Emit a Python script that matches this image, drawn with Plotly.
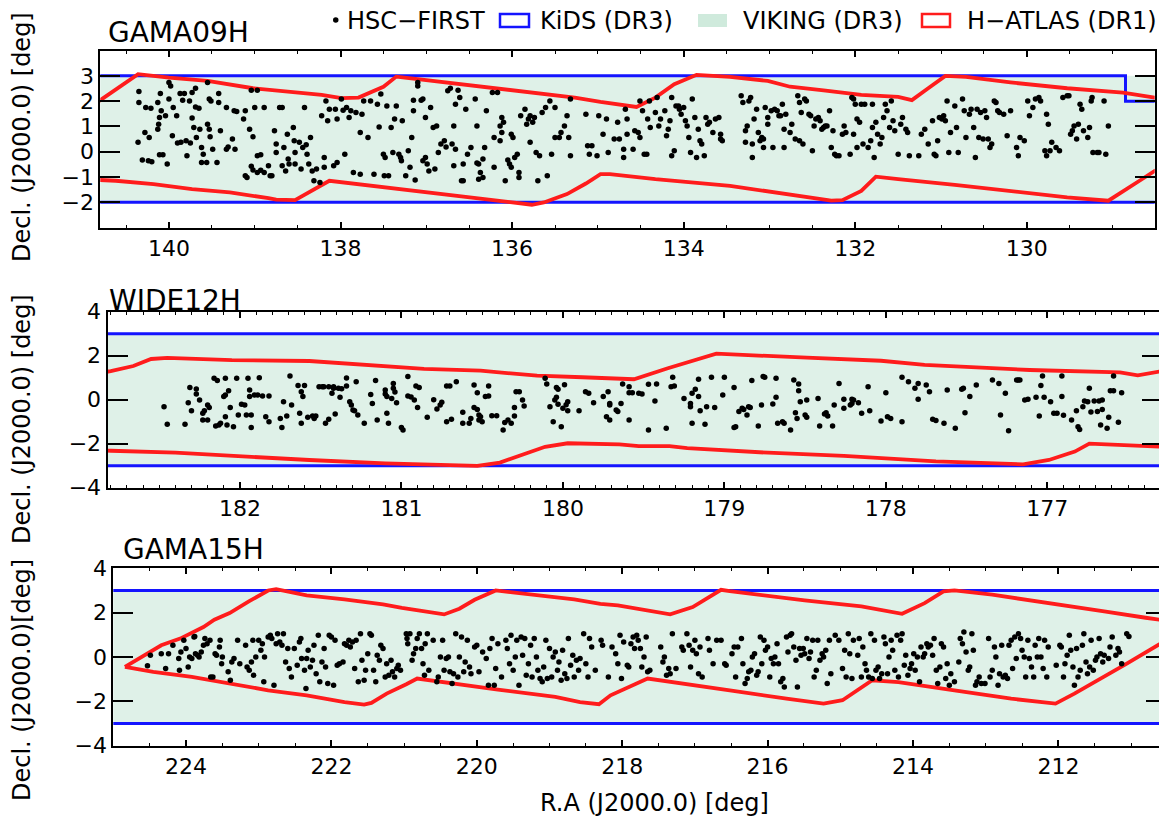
import plotly.graph_objects as go

# page is drawn inside the browser's default 8 px body margin
OFF = 8
W, H = 1167 - OFF, 821 - OFF
FONT = "DejaVu Sans"

# ---------------- DATA (RA, Dec in degrees) ----------------
# HSC-FIRST sources, GAMA09H field
g09_hsc = [
(140.35,2.38),(140.35,1.95),(140.36,0.37),(140.31,-0.33),(140.27,1.75),(140.21,1.72),(140.24,-0.36),(140.20,-0.40),
(140.28,0.76),(140.23,0.56),(140.13,1.95),(140.12,1.09),(140.13,0.89),(140.11,1.35),(140.09,1.62),(140.11,-0.12),
(140.07,-0.12),(140.10,2.30),(140.04,1.42),(140.02,-0.49),(140.00,2.74),(139.98,2.60),(140.00,2.08),(139.96,0.63),
(139.95,1.75),(139.91,1.42),(139.90,0.34),(139.87,2.30),(139.82,2.30),(139.84,2.04),(139.86,0.37),(139.80,0.43),
(139.79,-0.16),(139.76,2.01),(139.75,0.34),(139.73,2.34),(139.73,1.33),(139.71,0.96),(139.69,2.51),(139.69,1.77),
(139.68,0.56),(139.65,1.72),(139.64,0.89),(139.62,0.17),(139.62,-0.43),(139.60,-0.10),(139.56,-0.43),(139.55,2.74),
(139.55,1.09),(139.53,2.08),(139.53,0.89),(139.52,0.59),(139.51,2.01),(139.49,0.10),(139.44,-0.43),(139.42,2.30),
(139.42,1.95),(139.40,0.83),(139.33,1.75),(139.33,0.10),(139.31,0.19),(139.26,0.50),(139.24,1.62),(139.21,1.59),
(139.23,0.10),(139.13,1.29),(139.11,-0.95),(139.09,-1.02),(139.11,1.62),(139.06,0.89),(139.04,2.43),(139.02,0.59),
(139.04,-0.58),(139.02,-0.72),(138.97,-0.16),(138.97,2.43),(138.93,-0.12),(139.00,1.75),(138.97,-0.82),(138.93,-0.73),
(138.89,1.75),(138.89,-0.82),(138.84,-0.56),(138.82,-0.95),(138.80,-0.95),(138.77,0.83),(138.75,0.30),(138.75,-0.03),
(138.71,1.75),(138.68,1.75),(138.68,-0.56),(138.66,0.17),(138.64,-0.76),(138.62,0.69),(138.61,-0.29),(138.60,-0.49),
(138.55,0.96),(138.54,0.43),(138.53,-0.03),(138.53,-0.49),(138.48,0.37),(138.46,-0.69),(138.44,0.17),(138.42,1.75),
(138.40,0.27),(138.39,-0.10),(138.37,-0.49),(138.35,0.56),(138.33,-0.76),(138.31,-1.15),(138.28,-0.69),(138.24,-1.22),
(138.22,1.42),(138.19,-0.23),(138.19,-0.62),(138.17,2.01),(138.15,1.22),(138.13,1.68),(138.08,-0.56),(138.06,1.68),
(138.04,-0.43),(138.04,1.29),(137.99,2.08),(137.97,1.64),(137.95,-0.10),(137.93,1.75),(137.90,1.35),(137.88,1.62),
(137.85,-0.82),(137.82,1.55),(137.77,-0.89),(137.77,0.76),(137.75,1.48),(137.73,2.01),(137.68,0.56),(137.65,2.01),
(137.61,-0.89),(137.57,1.88),(137.55,0.98),(137.53,2.28),(137.50,-0.10),(137.48,-0.23),(137.49,-0.95),(137.46,1.81),
(137.44,-0.95),(137.41,0.96),(137.39,-0.03),(137.37,1.29),(137.35,1.81),(137.32,-0.10),(137.30,-0.23),(137.29,-0.36),
(137.28,1.22),(137.24,-0.95),(137.21,0.04),(137.19,-0.62),(137.17,0.56),(137.15,1.62),(137.15,2.04),(137.13,-1.12),
(137.10,2.60),(137.10,2.74),(137.06,2.04),(137.04,2.08),(137.04,-0.36),(137.01,1.35),(137.01,-0.23),(136.99,-0.49),
(136.97,-0.76),(136.95,1.75),(136.92,0.96),(136.90,-0.69),(136.88,1.02),(136.86,-0.03),(136.83,0.30),(136.79,0.43),
(136.77,0.19),(136.75,2.41),(136.72,2.51),(136.70,0.30),(136.68,-0.56),(136.68,1.02),(136.66,1.88),(136.66,0.10),
(136.63,2.43),(136.61,2.14),(136.59,-1.15),(136.57,-1.15),(136.57,-0.49),(136.54,1.68),(136.52,-0.10),(136.48,0.17),
(136.43,2.08),(136.41,1.02),(136.41,-0.45),(136.39,-1.09),(136.39,-0.49),(136.37,-0.82),(136.34,-0.29),(136.34,-1.02),
(136.32,0.17),(136.30,1.62),(136.23,2.34),(136.21,-0.62),(136.21,0.56),(136.17,2.34),(136.14,1.02),(136.14,0.43),
(136.12,0.76),(136.12,1.35),(136.10,1.16),(136.08,-1.15),(136.05,-0.33),(136.03,-0.49),(136.01,0.69),(135.99,0.56),
(136.01,-0.62),(135.97,-0.23),(135.94,-0.10),(135.92,-1.02),(135.92,-0.82),(135.90,1.42),(135.85,1.68),(135.83,1.09),
(135.81,1.29),(135.79,0.37),(135.79,1.42),(135.76,1.16),(135.74,1.35),(135.72,-0.03),(135.70,-1.15),(135.68,-0.16),
(135.65,1.55),(135.61,1.75),(135.59,-0.95),(135.56,2.01),(135.54,-0.10),(135.50,1.75),(135.50,0.56),(135.45,0.56),
(135.43,0.76),(135.39,1.02),(135.36,1.42),(135.34,0.56),(135.32,-0.16),(135.32,2.08),(135.14,1.48),(135.12,0.23),
(135.10,-0.10),(135.07,0.23),(135.01,-0.16),
(134.99,1.42),(134.94,0.69),(134.90,1.29),(134.88,-0.03),(134.81,0.50),(134.77,1.16),(134.75,0.50),(134.70,0.10),
(134.70,-0.23),(134.68,1.68),(134.66,1.29),(134.66,0.69),(134.59,0.10),(134.57,0.83),(134.53,0.76),(134.51,0.56),
(134.51,2.01),(134.48,1.62),(134.46,-0.10),(134.43,-0.10),(134.42,1.29),(134.40,2.01),(134.39,0.96),(134.33,1.55),
(134.31,2.14),(134.29,1.02),(134.27,1.29),(134.22,1.62),(134.20,0.63),(134.18,0.89),(134.16,1.22),(134.14,2.14),
(134.14,-0.16),(134.11,0.04),(134.09,1.81),(134.06,1.81),(134.05,1.68),(134.03,1.48),(134.00,1.75),(133.98,1.22),
(133.96,1.02),(133.94,0.56),(133.92,-0.03),(133.90,2.08),(133.87,1.35),(133.85,-0.23),(133.83,0.89),(133.81,0.43),
(133.79,0.30),(133.76,-0.16),(133.74,1.35),(133.72,1.09),(133.70,1.16),(133.66,0.76),(133.63,1.29),(133.59,1.35),
(133.57,0.50),(133.57,0.69),(133.55,0.43),(133.33,2.21),(133.31,1.95),(133.28,0.37),(133.28,0.83),(133.26,1.02),
(133.24,2.01),(133.22,2.14),(133.20,0.30),(133.20,-0.23),(133.18,1.29),(133.15,1.68),(133.13,0.76),(133.11,0.43),
(133.09,0.56),(133.07,0.17),(133.07,0.50),(133.05,1.75),(133.02,1.35),(133.02,1.09),(132.98,1.62),(132.96,0.17),
(132.94,1.68),(132.91,1.62),(132.89,1.42),(132.87,1.42),(132.85,1.88),(132.83,0.89),(132.81,1.48),(132.83,0.17),
(132.76,0.76),(132.74,1.09),(132.70,0.50),(132.67,2.21),(132.65,1.95),(132.65,0.43),(132.63,1.55),(132.61,0.30),
(132.59,2.08),(132.57,2.01),(132.54,1.48),(132.52,1.42),(132.50,0.04),(132.48,1.02),(132.46,1.29),(132.43,1.35),
(132.41,1.22),(132.39,0.89),(132.37,0.96),(132.35,1.02),(132.33,1.02),(132.30,1.62),(132.28,0.17),(132.26,0.83),
(132.24,-0.10),(132.22,-0.16),(132.19,-0.16),(132.15,0.69),(132.13,1.02),(132.11,0.76),(132.06,-0.10),(132.04,2.14),
(132.02,0.69),(132.02,2.08),(132.00,1.88),(131.98,1.29),(131.98,0.17),(131.95,1.16),(131.93,1.88),(131.91,0.30),
(131.89,1.88),(131.85,0.17),(131.82,0.43),(131.80,0.96),(131.80,1.88),(131.78,-0.23),(131.76,1.16),(131.74,0.69),
(131.71,0.30),(131.69,0.56),(131.67,1.35),(131.65,1.88),(131.63,1.62),(131.60,0.96),(131.58,2.01),(131.56,1.22),
(131.54,0.83),(131.50,-0.10),(131.47,1.09),(131.45,1.35),(131.41,0.89),(131.39,0.76),(131.37,-0.16),(131.26,-0.16),
(131.23,0.69),(131.19,0.89),(131.15,0.30),(131.10,1.22),(131.08,-0.10),(131.06,-0.16),(131.04,0.43),(131.02,1.35),
(130.99,1.29),(130.97,1.42),(130.95,1.22),(130.93,2.01),(130.91,-0.03),(130.89,0.76),(130.84,1.81),(130.82,0.96),
(130.80,-0.03),(130.75,2.08),(130.73,1.62),(130.71,0.56),(130.67,1.48),(130.65,1.68),(130.62,0.96),(130.60,-0.23),
(130.58,1.68),(130.56,0.56),(130.54,1.55),(130.51,0.50),(130.49,1.62),(130.47,1.35),(130.45,0.50),(130.43,0.17),
(130.41,0.30),(130.38,2.01),(130.36,1.95),(130.34,1.62),(130.32,1.55),(130.27,1.48),(130.23,0.63),(130.19,1.62),
(130.12,0.17),(130.10,-0.16),(130.08,0.56),(130.03,0.43),(129.99,2.01),(129.97,1.42),(129.93,1.75),(129.90,2.08),
(129.86,2.14),(129.84,2.01),(129.79,0.04),(129.77,1.48),(129.75,1.09),(129.77,-0.16),(129.73,0.04),(129.71,0.37),
(129.66,0.17),(129.62,0.04),(129.58,2.14),(129.53,2.21),(129.51,2.21),(129.49,0.69),(129.47,0.83),(129.45,1.02),
(129.42,0.50),(129.40,1.09),(129.38,1.88),(129.36,1.68),(129.34,0.83),(129.29,0.56),(129.27,0.96),(129.25,2.01),
(129.24,2.14),(129.23,-0.03),(129.18,-0.03),(129.16,-0.03),(129.10,2.01),(129.08,-0.10),(129.05,1.02),
]

# HSC-FIRST sources, WIDE12H field
w12_hsc = [
(182.47,-0.32),(182.45,-1.12),(182.34,-1.12),(182.32,-0.14),(182.31,0.56),(182.30,-0.50),(182.27,0.49),(182.27,0.26),
(182.25,-0.01),(182.23,-0.62),(182.23,-0.92),(182.22,-0.50),(182.20,-0.92),(182.20,-0.24),(182.19,-0.36),(182.16,0.97),
(182.15,-1.20),(182.14,0.87),(182.13,-1.15),(182.12,-1.07),(182.10,0.14),(182.09,0.21),(182.09,-0.77),(182.09,0.97),
(182.08,-1.15),(182.07,0.41),(182.06,-0.36),(182.04,-1.23),(182.02,0.97),(182.01,-0.70),(181.99,-0.21),(181.97,-0.24),
(181.96,-0.70),(181.95,0.97),(181.94,0.14),(181.94,0.44),(181.93,-0.70),(181.93,-1.26),(181.91,0.21),(181.89,0.21),
(181.88,1.00),(181.86,0.17),(181.84,-0.77),(181.82,0.17),(181.82,-1.00),(181.75,-0.85),(181.74,-1.26),(181.73,-0.09),
(181.71,-0.74),(181.69,1.08),(181.68,-0.24),(181.64,0.64),(181.63,-0.62),(181.62,-1.07),(181.62,0.36),(181.61,0.14),
(181.60,0.64),(181.58,-0.80),(181.55,-0.74),(181.54,-0.85),(181.53,-0.74),(181.51,0.59),(181.49,0.59),(181.48,0.59),
(181.47,-1.07),(181.45,0.59),(181.45,-0.89),(181.43,0.29),(181.42,0.59),(181.42,0.52),(181.41,-0.65),(181.39,0.52),
(181.38,0.11),(181.37,0.50),(181.34,0.99),(181.34,0.62),(181.32,-0.09),(181.31,-0.24),(181.30,-0.47),(181.29,-0.50),
(181.28,0.82),(181.27,-0.70),(181.23,-1.07),(181.19,0.24),(181.18,-0.17),(181.16,0.87),(181.15,-0.92),(181.10,0.44),
(181.10,0.26),(181.09,0.14),(181.09,-0.62),(181.08,-1.07),(181.06,0.06),(181.05,0.52),(181.05,0.74),(181.04,0.35),
(181.03,-0.14),(181.00,-1.26),(180.99,-1.38),(180.96,1.05),(180.96,0.17),(180.94,0.12),(180.92,-0.01),(180.91,0.62),
(180.90,-0.36),(180.89,0.55),(180.84,-0.80),(180.80,0.00),(180.78,-0.42),(180.76,-0.24),(180.75,-0.12),(180.72,-1.00),
(180.72,0.62),(180.70,0.62),(180.69,-0.89),(180.66,0.82),(180.62,-0.57),(180.62,-1.07),(180.58,-1.07),(180.57,-0.85),
(180.55,0.67),(180.55,-0.36),(180.53,-0.44),(180.53,0.32),(180.52,-0.92),(180.52,-0.70),(180.51,-0.77),(180.50,-1.00),
(180.48,0.14),(180.46,0.62),(180.46,0.17),(180.44,-0.73),(180.41,-0.73),(180.37,-1.38),(180.36,-1.04),(180.34,-0.92),
(180.32,-1.07),(180.30,-0.74),(180.30,-0.35),(180.29,0.36),(180.27,0.36),(180.25,-0.01),(180.24,-0.29),(180.11,0.97),
(180.10,0.71),(180.08,-0.32),(180.06,-1.00),(180.05,-0.01),(180.04,0.11),(180.04,0.56),(180.03,0.47),(180.03,-0.21),
(180.01,-1.23),(180.00,-0.39),(179.99,0.68),(179.98,-0.23),(179.97,-0.09),(179.97,-0.50),(179.90,-0.50),(179.86,0.36),
(179.84,0.29),(179.81,-0.14),
(179.75,0.14),(179.72,0.36),(179.71,-0.17),(179.71,-0.24),(179.73,-0.77),(179.71,-0.92),(179.67,-0.47),(179.66,-0.54),
(179.64,-0.17),(179.63,0.71),(179.59,0.59),(179.59,0.32),(179.59,-0.92),(179.57,0.32),(179.53,0.29),(179.51,0.26),
(179.47,-1.38),(179.47,0.70),(179.43,-0.06),(179.42,0.71),(179.36,-1.30),(179.33,0.59),(179.32,1.02),(179.31,0.62),
(179.25,0.06),(179.21,-0.17),(179.20,-1.07),(179.21,-0.32),(179.20,0.29),(179.18,0.47),(179.16,0.14),(179.16,0.93),
(179.15,-0.50),(179.12,-1.12),(179.11,-0.32),(179.08,1.02),(179.06,-0.35),(179.01,0.21),(179.00,1.02),(178.94,0.56),
(178.94,-1.26),(178.93,-1.23),(178.91,-0.54),(178.89,-0.39),(178.88,-0.44),(178.86,-0.70),(178.85,-0.32),(178.84,-0.35),
(178.83,0.87),(178.79,-1.20),(178.77,-0.24),(178.76,1.05),(178.75,1.02),(178.70,-0.20),(178.68,0.11),(178.68,0.97),
(178.67,-1.07),(178.64,-1.00),(178.63,-1.07),(178.59,-1.38),(178.57,0.89),(178.56,-0.59),(178.55,-0.85),(178.54,0.71),
(178.54,0.41),(178.53,-0.09),(178.50,-0.70),(178.49,-0.80),(178.49,-0.01),(178.42,0.06),(178.41,-1.20),(178.38,-0.65),
(178.37,-0.59),(178.36,-0.74),(178.33,-1.20),(178.32,-0.24),(178.29,0.74),(178.26,-0.39),(178.26,0.02),(178.22,-0.24),
(178.21,0.02),(178.21,-0.17),(178.20,-0.01),(178.17,-0.14),(178.15,-0.62),(178.11,0.59),(178.10,-0.50),(178.03,-0.97),
(178.00,0.32),(177.99,-0.77),(177.97,-0.86),(177.90,1.02),(177.90,-1.00),(177.86,0.82),(177.82,0.52),(177.80,0.74),
(177.80,0.02),(177.75,0.67),(177.73,0.36),(177.71,-0.89),(177.69,-0.95),(177.64,-1.07),(177.62,0.44),(177.57,-1.30),
(177.53,0.47),(177.52,0.52),(177.51,-0.59),(177.48,0.14),(177.44,0.67),(177.34,0.89),(177.30,0.74),(177.29,-0.70),
(177.26,0.29),(177.24,-1.41),(177.19,0.89),(177.18,0.89),(177.17,0.89),(177.14,-0.01),(177.12,0.02),(177.07,0.11),
(177.05,-0.74),(177.04,0.64),(177.03,1.08),(177.02,0.11),(176.98,-0.09),(176.96,-0.62),(176.94,-0.62),(176.91,1.08),
(176.91,0.14),(176.90,-0.71),(176.85,-0.92),(176.82,-0.50),(176.81,-1.23),(176.80,-1.35),(176.78,-0.32),(176.77,-0.06),
(176.75,-0.09),(176.74,0.52),(176.73,-0.56),(176.71,-0.06),(176.69,-0.54),(176.68,-0.06),(176.67,-1.15),(176.66,-0.44),
(176.66,-0.01),(176.63,-1.30),(176.62,-0.80),(176.61,0.41),(176.59,1.08),(176.59,0.41),(176.56,-1.03),(176.54,0.32),
]

# HSC-FIRST sources, GAMA15H field
g15_hsc = [
(224.53,-0.40),(224.49,0.08),(224.34,0.15),(224.28,-0.52),(224.24,0.15),(224.18,0.53),(224.10,-0.07),(224.09,-0.60),
(224.07,0.23),(224.03,0.75),(224.00,0.38),(223.97,-0.45),(223.95,0.00),(223.92,-0.07),(223.89,0.90),(223.88,0.93),
(223.87,0.15),(223.84,0.08),(223.82,0.00),(223.79,0.23),(223.76,0.53),(223.74,0.83),(223.71,0.60),(223.67,0.75),
(223.66,-0.90),(223.63,-0.90),(223.60,0.15),(223.58,0.08),(223.54,0.45),(223.53,0.75),(223.51,-0.30),(223.50,0.00),
(223.42,-0.67),(223.39,-1.05),(223.37,-0.22),(223.34,-0.07),(223.29,0.75),(223.26,-0.30),(223.18,0.53),(223.16,-0.45),
(223.13,-0.60),(223.10,-0.22),(223.08,0.75),(223.07,-0.82),(223.04,0.00),(223.00,0.75),(222.97,0.30),(222.95,0.60),
(222.93,-1.12),(222.92,0.00),(222.87,0.90),(222.84,0.98),(222.82,0.83),(222.79,-1.27),(222.76,0.60),(222.74,1.05),
(222.71,0.68),(222.68,0.53),(222.66,1.05),(222.63,-0.22),(222.60,0.38),(222.58,-0.52),(222.55,-0.90),(222.51,0.38),
(222.47,-0.37),(222.44,0.68),(222.42,0.83),(222.41,-0.07),(222.37,-0.60),(222.35,-1.42),(222.34,-0.07),(222.32,0.30),
(222.29,-0.45),(222.26,-0.15),(222.24,0.53),(222.21,-0.75),(222.18,0.98),(222.16,-1.12),(222.13,-0.22),(222.10,0.38),
(222.08,-0.45),(222.05,-1.20),(222.03,0.98),(222.00,0.90),(221.97,-1.27),(221.95,0.75),(221.92,-0.37),(221.89,-0.30),
(221.84,-0.22),(221.82,0.60),(221.79,0.53),(221.76,0.75),(221.74,0.45),(221.71,0.68),(221.68,-0.52),(221.66,0.75),
(221.63,-1.12),(221.60,1.05),(221.58,-0.15),(221.55,-1.05),(221.53,-0.60),(221.50,0.15),(221.47,1.05),(221.45,0.98),
(221.42,-0.60),(221.39,-1.12),(221.37,0.08),(221.34,-0.15),(221.32,0.53),(221.29,0.38),(221.26,-0.90),(221.24,-0.30),
(221.21,-0.82),(221.18,-0.15),(221.16,-0.67),(221.13,-0.90),(221.10,-0.52),(221.08,-0.37),(221.05,-0.60),(220.97,1.05),
(220.96,0.83),(220.95,0.60),(220.92,1.05),(220.89,-0.15),(220.87,0.15),(220.84,0.38),(220.82,0.83),(220.79,1.05),
(220.76,0.38),(220.74,-0.30),(220.72,-0.82),(220.71,0.60),(220.68,1.05),(220.66,-0.60),(220.60,0.75),(220.55,-1.12),
(220.53,-0.90),(220.50,0.00),(220.47,0.75),(220.45,-0.60),(220.42,-0.07),(220.39,0.00),(220.37,-0.67),(220.34,-1.20),
(220.32,-0.75),(220.29,1.05),(220.26,-0.90),(220.24,0.00),(220.21,0.90),(220.18,-0.67),(220.16,-0.22),(220.13,0.75),
(220.10,-0.45),(220.08,-0.75),(220.03,0.45),(220.00,0.53),(219.97,-0.67),(219.92,0.23),(219.87,-0.07),(219.84,-1.27),
(219.82,0.38),(219.79,0.83),(219.76,-1.27),(219.74,-0.52),(219.71,0.60),(219.66,-0.90),(219.60,0.75),(219.58,0.38),
(219.55,-0.30),(219.53,0.98),(219.50,-0.60),(219.47,0.00),(219.45,0.75),(219.42,-1.27),(219.39,0.90),(219.37,0.08),
(219.34,0.83),(219.32,-0.82),(219.29,-0.30),(219.26,0.53),(219.24,-0.90),(219.21,0.83),(219.18,0.00),(219.16,-0.60),
(219.13,-0.97),(219.10,-1.12),(219.08,-0.45),(219.05,0.75),(219.03,-0.97),(219.00,0.38),(218.97,-0.90),(218.95,0.00),
(218.92,0.23),(218.89,-0.60),(218.87,-0.22),(218.84,-1.05),(218.82,0.30),(218.79,-0.75),(218.76,-0.97),(218.74,0.83),
(218.71,-0.37),(218.68,0.08),(218.66,-0.90),(218.63,-0.15),(218.60,-0.60),(218.58,-0.07),(218.53,1.05),(218.50,-0.30),
(218.47,-0.90),(218.45,0.83),(218.42,0.45),(218.37,-0.60),
(218.29,0.75),(218.27,0.53),(218.19,-0.90),(218.14,0.45),(218.09,0.15),(218.06,-0.30),(218.03,0.98),(218.01,-0.97),
(217.98,0.68),(217.93,-0.37),(217.91,-0.45),(217.88,0.60),(217.85,0.90),(217.83,0.38),(217.80,0.98),(217.78,0.75),
(217.75,0.38),(217.73,-0.45),(217.70,0.00),(217.67,0.90),(217.65,-0.67),(217.62,-0.60),(217.47,0.45),(217.44,-0.22),
(217.42,0.00),(217.39,-0.82),(217.36,-0.52),(217.34,-0.75),(217.31,1.05),(217.26,-0.52),(217.18,0.45),(217.16,0.30),
(217.11,1.05),(217.08,0.53),(217.06,-0.45),(217.03,0.30),(217.00,0.75),(216.98,0.15),(216.95,-0.75),(216.93,0.45),
(216.90,-0.90),(216.82,0.83),(216.80,0.30),(216.75,-0.30),(216.70,0.75),(216.64,0.75),(216.59,-0.30),(216.57,-0.37),
(216.49,0.15),(216.46,0.45),(216.44,-0.90),(216.41,0.45),(216.36,0.83),(216.34,-0.30),(216.31,-1.20),(216.28,-0.97),
(216.26,-0.67),(216.23,-0.60),(216.21,0.00),(216.18,0.15),(216.15,-0.82),(216.13,-0.67),(216.10,0.90),(216.08,-0.30),
(216.05,0.75),(216.03,0.30),(216.00,0.45),(215.97,-0.90),(215.95,-0.07),(215.92,-0.30),(215.90,0.00),(215.87,0.60),
(215.85,-0.30),(215.82,-1.12),(215.79,-0.97),(215.77,-1.35),(215.74,0.90),(215.72,0.23),(215.69,0.98),(215.67,1.05),
(215.64,0.45),(215.61,-0.15),(215.59,-1.35),(215.56,0.38),(215.54,0.08),(215.51,0.38),(215.49,0.15),(215.46,0.83),
(215.43,-0.07),(215.41,0.23),(215.38,0.75),(215.36,-0.90),(215.33,-0.60),(215.31,0.75),(215.28,-0.15),(215.25,0.15),
(215.23,0.00),(215.20,0.30),(215.18,-1.20),(215.15,0.75),(215.13,-0.75),(215.07,0.98),(215.02,0.75),(214.97,-0.52),
(214.94,0.30),(214.92,-0.90),(214.89,1.05),(214.87,0.15),(214.84,-0.97),(214.82,0.75),(214.76,0.08),(214.74,0.83),
(214.71,-0.90),(214.69,0.45),(214.66,-0.30),(214.64,-0.60),(214.61,-0.90),(214.58,1.05),(214.56,-0.97),(214.53,0.75),
(214.51,-0.60),(214.48,-0.45),(214.46,-0.97),(214.43,-0.75),(214.40,0.90),(214.38,0.60),(214.35,-0.75),(214.33,0.00),
(214.30,0.75),(214.28,0.30),(214.25,-0.60),(214.22,0.98),(214.20,-0.90),(214.17,0.75),(214.15,1.05),(214.12,-0.37),
(214.10,0.08),(214.07,-0.82),(214.04,-0.52),(214.02,-0.30),(213.99,0.15),(213.97,-0.60),(213.94,0.00),(213.91,-1.12),
(213.89,0.45),(213.86,0.00),(213.84,0.15),(213.81,0.60),(213.79,0.45),(213.76,0.53),(213.73,0.08),(213.71,0.83),
(213.68,-0.60),(213.66,-1.20),(213.63,-0.45),(213.61,0.60),(213.58,0.45),(213.55,-0.97),(213.53,-0.30),(213.50,-1.27),
(213.48,-0.75),(213.43,-1.12),(213.37,-0.22),(213.35,0.83),(213.32,0.60),(213.30,1.13),(213.27,0.23),(213.24,-0.60),
(213.22,-0.45),(213.19,1.05),(213.17,0.30),(213.14,-1.27),(213.12,-1.12),(213.09,-0.90),(213.06,-1.20),(213.01,-1.20),
(212.96,0.83),(212.94,-0.90),(212.91,-0.60),(212.88,0.45),(212.86,0.00),(212.83,-1.27),(212.81,-0.75),(212.78,0.53),
(212.76,-0.90),(212.73,-0.82),(212.70,-0.97),(212.68,0.53),(212.65,0.75),(212.63,-0.52),(212.60,0.90),(212.58,-0.07),
(212.55,1.05),(212.52,0.83),(212.50,0.30),(212.47,0.00),(212.45,-0.90),(212.42,0.75),(212.40,-0.07),(212.37,-0.45),
(212.34,-0.90),(212.32,0.53),(212.29,0.00),(212.27,0.83),(212.24,0.00),(212.21,-0.52),(212.19,0.75),(212.16,-0.90),
(212.14,0.45),(212.03,-0.37),(211.98,0.53),(211.96,0.45),(211.93,-0.90),(211.91,-0.30),(211.88,0.08),(211.85,0.98),
(211.83,0.30),(211.80,-0.45),(211.78,-1.27),(211.75,0.38),(211.73,-0.90),(211.70,-0.60),(211.67,0.53),(211.65,1.05),
(211.62,-0.22),(211.60,-0.75),(211.57,-0.45),(211.55,0.75),(211.52,-0.60),(211.49,-0.15),(211.47,0.00),(211.44,0.83),
(211.42,0.15),(211.39,-0.22),(211.37,0.08),(211.31,-0.07),(211.29,0.45),(211.26,0.90),(211.21,0.08),(211.18,0.38),
(211.16,0.23),(211.13,-0.30),(211.06,1.05),(211.03,0.93),
]

# H-ATLAS (DR1) field boundaries: upper edge (decreasing RA) then lower edge (increasing RA)
g09_atlas = [
(141.0,1.57),(140.79,2.05),(140.36,3.07),(140.00,2.93),(139.55,2.80),(139.02,2.51),(138.75,2.43),(138.44,2.30),
(138.22,2.25),(137.99,2.12),(137.79,2.14),(137.50,2.57),(137.35,2.97),(137.10,2.87),(136.61,2.67),(136.17,2.51),
(135.72,2.34),(135.27,2.14),(134.97,1.97),(134.86,1.91),(134.55,1.77),(134.33,2.14),(134.11,2.67),(133.85,3.04),
(133.46,2.96),(133.02,2.80),(132.76,2.57),(132.37,2.43),(131.93,2.25),(131.50,2.17),(131.34,2.04),(131.15,2.51),
(130.95,3.00),(130.71,2.96),(130.19,2.74),(129.53,2.51),(128.88,2.34),(128.51,2.14),(128.2,2.02),
(128.2,-0.35),(128.51,-0.76),(128.66,-1.09),(128.88,-1.55),(129.05,-1.94),(129.53,-1.81),(130.19,-1.55),(130.84,-1.31),
(131.50,-1.09),(131.76,-0.99),(131.93,-1.55),(132.15,-1.92),(132.28,-1.94),(132.81,-1.68),(133.46,-1.35),(134.33,-1.09),
(134.86,-0.89),(134.97,-0.89),(135.14,-1.26),(135.36,-1.68),(135.63,-2.01),(135.77,-2.10),(136.17,-1.94),(136.83,-1.68),
(137.50,-1.41),(138.13,-1.15),(138.53,-1.92),(138.75,-1.90),(138.84,-1.84),(139.29,-1.61),(139.73,-1.48),(140.18,-1.28),
(140.62,-1.15),(140.79,-1.11),(141.0,-1.09),
]
w12_atlas = [
(183.0,1.05),(182.80,1.30),(182.66,1.53),(182.55,1.85),(182.45,1.90),(182.05,1.80),(181.57,1.76),(181.10,1.55),
(180.86,1.40),(180.51,1.32),(180.16,1.09),(179.88,1.02),(179.76,1.00),(179.56,0.93),(179.35,1.43),(179.19,1.80),
(179.05,2.09),(178.49,1.91),(178.03,1.77),(177.76,1.58),(177.45,1.47),(177.11,1.35),(176.55,1.24),(176.44,1.11),
(176.29,1.30),(176.1,1.45),
(176.1,-2.14),(176.29,-2.14),(176.74,-2.00),(176.83,-2.36),(176.99,-2.74),(177.15,-2.94),(177.69,-2.80),(178.26,-2.55),
(178.73,-2.41),(179.23,-2.20),(179.34,-2.11),(179.53,-2.11),(179.65,-2.03),(179.88,-1.98),(179.97,-1.98),(180.11,-2.14),
(180.27,-2.56),(180.39,-2.86),(180.53,-3.01),(180.86,-2.95),(181.10,-2.89),(181.57,-2.74),(182.05,-2.55),(182.40,-2.41),
(182.80,-2.32),(183.0,-2.30),
]
g15_atlas = [
(224.84,-0.45),(224.34,0.53),(224.08,0.83),(223.76,1.35),(223.61,1.68),(223.40,1.98),(223.13,2.52),(222.87,3.00),
(222.76,3.06),(222.34,2.78),(221.82,2.60),(221.29,2.37),(221.03,2.21),(220.76,2.07),(220.45,1.92),(220.24,2.18),
(220.03,2.58),(219.74,3.00),(219.18,2.78),(218.66,2.60),(218.30,2.40),(218.06,2.33),(217.34,1.92),(217.03,2.25),
(216.64,3.03),(216.52,2.97),(215.49,2.55),(214.71,2.28),(214.15,1.95),(213.84,2.43),(213.58,2.96),(213.43,3.00),
(212.91,2.81),(211.88,2.33),(211.37,2.06),(210.80,1.77),(210.52,1.65),(210.2,1.5),
(210.2,1.2),(210.52,0.75),(211.06,-0.30),(211.37,-0.90),(211.78,-1.65),(212.04,-2.10),(212.65,-1.88),(213.43,-1.50),
(214.20,-1.13),(214.56,-1.05),(214.97,-1.95),(215.23,-2.10),(215.74,-1.88),(216.52,-1.50),(217.34,-1.13),(217.65,-0.97),
(218.16,-1.73),(218.32,-2.13),(218.58,-2.03),(218.92,-1.80),(219.71,-1.47),(220.50,-1.13),(220.82,-0.97),(220.97,-1.23),
(221.24,-1.65),(221.45,-2.07),(221.55,-2.15),(221.82,-2.03),(222.34,-1.73),(222.87,-1.50),(223.40,-1.20),(223.92,-0.90),
(224.45,-0.67),(224.84,-0.45),
]

# KiDS (DR3) footprint outlines
g09_kids = [(142.0,3.0),(128.85,3.0),(128.85,2.0),(127.0,2.0),(127.0,-2.0),(142.0,-2.0),(142.0,3.0)]
w12_kids = [(184.0,3.0),(175.0,3.0),(175.0,-3.0),(184.0,-3.0),(184.0,3.0)]
g15_kids = [(226.0,3.0),(209.0,3.0),(209.0,-3.0),(226.0,-3.0),(226.0,3.0)]

# VIKING (DR3) footprints
g09_viking = [(142.0,3.0),(127.0,3.0),(127.0,-2.0),(142.0,-2.0),(142.0,3.0)]
w12_viking = [(184.0,3.0),(175.0,3.0),(175.0,-3.0),(184.0,-3.0),(184.0,3.0)]
g15_viking = [(226.0,3.0),(209.0,3.0),(209.0,-3.0),(226.0,-3.0),(226.0,3.0)]

field_names = ["GAMA09H", "WIDE12H", "GAMA15H"]
ra_ranges = [[140.8, 128.51], [182.82, 176.29], [225.0, 210.52]]
dec_ranges = [[-3, 4], [-4, 4], [-4, 4]]
ra_ticks = [[140, 138, 136, 134, 132, 130], [182, 181, 180, 179, 178, 177], [224, 222, 220, 218, 216, 214, 212]]
dec_ticks = [[-2, -1, 0, 1, 2, 3], [-4, -2, 0, 2, 4], [-4, -2, 0, 2, 4]]
ra_minor = [0.5, 0.1, 0.5]
ylabels = ["Decl. (J2000.0) [deg]", "Decl. (J2000.0) [deg]", "Decl. (J2000.0)[deg]"]
legend_names = ["HSC\u2212FIRST", "KiDS (DR3)", "VIKING (DR3)", "H\u2212ATLAS (DR1)"]

# ---------------- LAYOUT (window-pixel geometry) ----------------
x_dom_px = [(100.3, 1154.7), (107.5, 1162.0), (113.3, 1166.0)]
y_dom_px = [(50.6, 227.5), (311.7, 487.7), (568.3, 745.7)]
title_pos = [(106, 32), (107, 300), (121, 549)]
ylabel_y = [137, 419, 680]

BLUE = "#1414ff"
RED = "#ff1c1c"
GREEN = "#dff1e8"
GREEN_KEY = "#cfeadc"

def fx(px):
    return (px - OFF) / W

def fy(py):
    return 1 - (py - OFF) / H

fig = go.Figure()

def split(pts):
    return [p[0] for p in pts], [p[1] for p in pts]

sets = [
    (g09_hsc, g09_kids, g09_viking, g09_atlas),
    (w12_hsc, w12_kids, w12_viking, w12_atlas),
    (g15_hsc, g15_kids, g15_viking, g15_atlas),
]

for i, (hsc, kids, viking, atlas) in enumerate(sets):
    xa = "x" if i == 0 else f"x{i+1}"
    ya = "y" if i == 0 else f"y{i+1}"
    vx, vy = split(viking)
    fig.add_trace(go.Scatter(x=vx, y=vy, mode="lines", fill="toself", fillcolor=GREEN,
                             line=dict(width=0, color=GREEN), name=legend_names[2], showlegend=False,
                             xaxis=xa, yaxis=ya, hoverinfo="skip"))
    kx, ky = split(kids)
    fig.add_trace(go.Scatter(x=kx, y=ky, mode="lines", line=dict(width=3, color=BLUE), name=legend_names[1],
                             showlegend=False, xaxis=xa, yaxis=ya, hoverinfo="skip"))
    ax_, ay_ = split(atlas)
    fig.add_trace(go.Scatter(x=ax_, y=ay_, mode="lines", line=dict(width=3.8, color=RED), name=legend_names[3],
                             showlegend=False, xaxis=xa, yaxis=ya, hoverinfo="skip"))
    hx, hy = split(hsc)
    fig.add_trace(go.Scatter(x=hx, y=hy, mode="markers", marker=dict(size=5.5, color="black"),
                             name=legend_names[0], showlegend=False, xaxis=xa, yaxis=ya))

annotations = []
shapes = []

# key along the top (symbol + label, placed like the reference)
key_y = 20
shapes.append(dict(type="circle", xref="paper", yref="paper", x0=fx(333), x1=fx(338.5),
                   y0=fy(key_y + 2.7), y1=fy(key_y - 2.7), fillcolor="black", line=dict(width=0)))
shapes.append(dict(type="rect", xref="paper", yref="paper", x0=fx(500), x1=fx(529),
                   y0=fy(27), y1=fy(14), fillcolor="rgba(0,0,0,0)", line=dict(width=2.5, color=BLUE)))
shapes.append(dict(type="rect", xref="paper", yref="paper", x0=fx(698), x1=fx(727),
                   y0=fy(27), y1=fy(14), fillcolor=GREEN_KEY, line=dict(width=0)))
shapes.append(dict(type="rect", xref="paper", yref="paper", x0=fx(922), x1=fx(950),
                   y0=fy(27), y1=fy(14), fillcolor="rgba(0,0,0,0)", line=dict(width=2.5, color=RED)))
for name, lx in zip(legend_names, [345, 538, 741, 965]):
    annotations.append(dict(text=name, x=fx(lx), y=fy(key_y + 1), xref="paper", yref="paper",
                            xanchor="left", yanchor="middle", showarrow=False,
                            font=dict(family=FONT, size=24, color="black")))

layout = dict(
    width=W, height=H, margin=dict(l=0, r=0, t=0, b=0, pad=0, autoexpand=False),
    paper_bgcolor="white", plot_bgcolor="white",
    font=dict(family=FONT, color="black", size=22),
    showlegend=False,
)

for i in range(3):
    xk = "xaxis" if i == 0 else f"xaxis{i+1}"
    yk = "yaxis" if i == 0 else f"yaxis{i+1}"
    ya = "y" if i == 0 else f"y{i+1}"
    xa = "x" if i == 0 else f"x{i+1}"
    x0, x1 = x_dom_px[i]
    y0, y1 = y_dom_px[i]
    layout[xk] = dict(domain=[fx(x0), min(fx(x1), 1.0)], range=ra_ranges[i], anchor=ya,
                      tickvals=ra_ticks[i], ticks="inside", ticklen=6, tickwidth=1.5, tickcolor="black",
                      minor=dict(ticks="inside", ticklen=3, tickwidth=1.2, dtick=ra_minor[i], tick0=0,
                                 tickcolor="black", showgrid=False),
                      showline=True, linecolor="black", linewidth=2, mirror="allticks",
                      showgrid=False, zeroline=False, tickfont=dict(family=FONT, size=22, color="black"))
    layout[yk] = dict(domain=[fy(y1), fy(y0)], range=dec_ranges[i], anchor=xa,
                      tickvals=dec_ticks[i], ticks="inside", ticklen=20, tickwidth=1.6, tickcolor="black",
                      showline=True, linecolor="black", linewidth=2, mirror="allticks",
                      showgrid=False, zeroline=False, tickfont=dict(family=FONT, size=22, color="black"))
    tx, ty = title_pos[i]
    annotations.append(dict(text=field_names[i], x=fx(tx), y=fy(ty), xref="paper", yref="paper",
                            xanchor="left", yanchor="middle", showarrow=False,
                            font=dict(family=FONT, size=28, color="black")))
    annotations.append(dict(text=ylabels[i], x=fx(22), y=fy(ylabel_y[i]), xref="paper", yref="paper",
                            xanchor="center", yanchor="middle", textangle=-90, showarrow=False,
                            font=dict(family=FONT, size=24, color="black")))

annotations.append(dict(text="R.A (J2000.0) [deg]", x=fx(654), y=fy(803), xref="paper", yref="paper",
                        xanchor="center", yanchor="middle", showarrow=False,
                        font=dict(family=FONT, size=24, color="black")))

layout["annotations"] = annotations
layout["shapes"] = shapes
fig.update_layout(**layout)
fig.write_html("out.html")
